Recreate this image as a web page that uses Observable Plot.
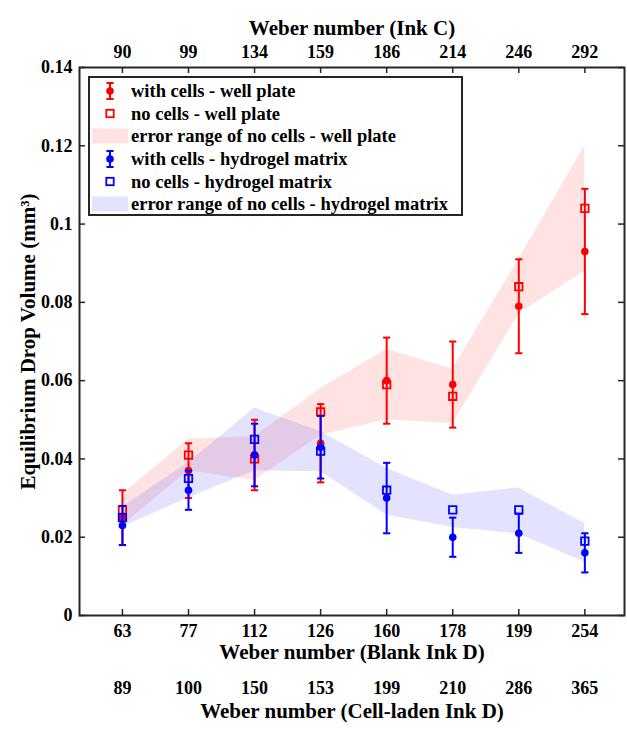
<!DOCTYPE html>
<html><head><meta charset="utf-8">
<script src="https://cdn.jsdelivr.net/npm/d3@7"></script>
<script src="https://cdn.jsdelivr.net/npm/@observablehq/plot@0.6"></script>
<style>
body{margin:0;background:#fff;}
#wrap{position:relative;width:627px;height:729px;}
#legend{position:absolute;left:0;top:0;pointer-events:none;}
#wrap svg text{font-family:"Liberation Serif","Times New Roman",Times,"DejaVu Serif","Noto Serif",serif !important;font-weight:bold;}
</style></head><body><div id="wrap"></div>
<script>
// ---- data ----
const pos = [1, 2, 3, 4, 5, 6, 7, 8];
const blankInkD = ["63", "77", "112", "126", "160", "178", "199", "254"];
const inkC = ["90", "99", "134", "159", "186", "214", "246", "292"];
const cellLaden = ["89", "100", "150", "153", "199", "210", "286", "365"];

const wellWith = [0.025, 0.037, 0.041, 0.044, 0.060, 0.059, 0.079, 0.093];
const wellWithErr = [0.007, 0.007, 0.009, 0.010, 0.011, 0.011, 0.012, 0.016];
const wellNo = [0.027, 0.041, 0.040, 0.052, 0.059, 0.056, 0.084, 0.104];
const wellNoLow = [0.023, 0.037, 0.0345, 0.046, 0.050, 0.049, 0.077, 0.088];
const wellNoHigh = [0.031, 0.045, 0.0457, 0.058, 0.068, 0.063, 0.091, 0.120];

const hydroWith = [0.023, 0.032, 0.041, 0.043, 0.030, 0.020, 0.021, 0.016];
const hydroWithErr = [0.005, 0.005, 0.008, 0.008, 0.009, 0.005, 0.005, 0.005];
const hydroNo = [0.025, 0.035, 0.045, 0.042, 0.032, 0.027, 0.027, 0.019];
const hydroNoLow = [0.0226, 0.030, 0.037, 0.0367, 0.0257, 0.0225, 0.0208, 0.0136];
const hydroNoHigh = [0.0277, 0.039, 0.053, 0.047, 0.0376, 0.0307, 0.0326, 0.0235];

const yTicks = [0, 0.02, 0.04, 0.06, 0.08, 0.1, 0.12, 0.14];

// ---- build rows ----
const rows = pos.map((x, i) => ({
  x,
  wWith: wellWith[i], wErr: wellWithErr[i], wNo: wellNo[i], wLo: wellNoLow[i], wHi: wellNoHigh[i],
  hWith: hydroWith[i], hErr: hydroWithErr[i], hNo: hydroNo[i], hLo: hydroNoLow[i], hHi: hydroNoHigh[i]
}));

const W = 627, H = 729;
const mL = 79, mR = 3, mT = 67, mB = 114;
const innerW = W - mL - mR, innerH = H - mT - mB;
const RED = "#ff0000", BLUE = "#0000ff", AX = "#262626";
const FONT = "Liberation Serif, Times New Roman, Times, DejaVu Serif, serif";

const capSymbol = {draw(ctx, size) { const r = Math.sqrt(size / Math.PI); ctx.moveTo(-r, 0); ctx.lineTo(r, 0); }};
const fmtY = d => d === 0 ? "0" : String(+d.toFixed(2));

function errMarks(lo, hi, color) {
  return [
    Plot.ruleX(rows, {x: "x", y1: lo, y2: hi, stroke: color, strokeWidth: 2}),
    Plot.dot(rows, {x: "x", y: lo, symbol: capSymbol, r: 3.6, stroke: color, strokeWidth: 2, fill: "none"}),
    Plot.dot(rows, {x: "x", y: hi, symbol: capSymbol, r: 3.6, stroke: color, strokeWidth: 2, fill: "none"})
  ];
}

const chart = Plot.plot({
  width: W, height: H,
  marginLeft: mL, marginRight: mR, marginTop: mT, marginBottom: mB,
  x: {domain: [0.35, 8.6], label: null},
  y: {domain: [0, 0.14], label: null},
  style: {fontFamily: FONT, fontSize: "18px", fontWeight: "bold", color: "#000", background: "#fff", overflow: "visible"},
  marks: [
    Plot.areaY(rows, {x: "x", y1: "wLo", y2: "wHi", fill: RED, fillOpacity: 0.11}),
    Plot.areaY(rows, {x: "x", y1: "hLo", y2: "hHi", fill: BLUE, fillOpacity: 0.11}),
    // well plate
    ...errMarks(d => d.wWith - d.wErr, d => d.wWith + d.wErr, RED),
    Plot.dot(rows, {x: "x", y: "wWith", r: 3.8, fill: RED, stroke: "none"}),
    Plot.dot(rows, {x: "x", y: "wNo", symbol: "square", r: 4.2, fill: "none", stroke: RED, strokeWidth: 1.8}),
    // hydrogel
    ...errMarks(d => d.hWith - d.hErr, d => d.hWith + d.hErr, BLUE),
    Plot.dot(rows, {x: "x", y: "hWith", r: 3.8, fill: BLUE, stroke: "none"}),
    Plot.dot(rows, {x: "x", y: "hNo", symbol: "square", r: 4.2, fill: "none", stroke: BLUE, strokeWidth: 1.8}),
    // inward ticks
    Plot.tickX(pos, {x: d => d, insetTop: innerH - 6, stroke: AX, strokeWidth: 1.5}),
    Plot.tickX(pos, {x: d => d, insetBottom: innerH - 6, stroke: AX, strokeWidth: 1.5}),
    Plot.tickY(yTicks, {y: d => d, insetRight: innerW - 6, stroke: AX, strokeWidth: 1.5}),
    Plot.tickY(yTicks, {y: d => d, insetLeft: innerW - 6, stroke: AX, strokeWidth: 1.5}),
    Plot.frame({stroke: AX, strokeWidth: 2}),
    // axes
    Plot.axisX({anchor: "bottom", ticks: pos, tickFormat: i => blankInkD[i - 1], tickSize: 0, tickPadding: 9, label: null}),
    Plot.axisX({anchor: "bottom", ticks: pos, tickFormat: i => cellLaden[i - 1], tickSize: 0, tickPadding: 66, label: null}),
    Plot.axisX({anchor: "top", ticks: pos, tickFormat: i => inkC[i - 1], tickSize: 0, tickPadding: 10, label: null}),
    Plot.axisY({anchor: "left", ticks: yTicks, tickFormat: fmtY, tickSize: 0, tickPadding: 7, label: null}),
    // titles
    Plot.text(["Weber number (Blank Ink D)"], {text: d => d, frameAnchor: "bottom", dy: 43, fontSize: 21, fontWeight: "bold"}),
    Plot.text(["Weber number (Cell-laden Ink D)"], {text: d => d, frameAnchor: "bottom", dy: 102, fontSize: 21, fontWeight: "bold"}),
    Plot.text(["Weber number (Ink C)"], {text: d => d, frameAnchor: "top", dy: -47, fontSize: 21, fontWeight: "bold"}),
    Plot.text(["Equilibrium Drop Volume (mm³)"], {text: d => d, frameAnchor: "left", textAnchor: "middle", dx: -51, rotate: -90, fontSize: 21, fontWeight: "bold"})
  ]
});

const wrap = document.getElementById("wrap");
wrap.appendChild(chart);

// ---- legend overlay ----
const legendItems = [
  {label: "with cells - well plate", kind: "err", color: RED},
  {label: "no cells - well plate", kind: "sq", color: RED},
  {label: "error range of no cells - well plate", kind: "patch", color: RED},
  {label: "with cells - hydrogel matrix", kind: "err", color: BLUE},
  {label: "no cells - hydrogel matrix", kind: "sq", color: BLUE},
  {label: "error range of no cells - hydrogel matrix", kind: "patch", color: BLUE}
];
const ns = "http://www.w3.org/2000/svg";
const lg = document.createElementNS(ns, "svg");
lg.setAttribute("id", "legend");
lg.setAttribute("width", W); lg.setAttribute("height", H);
let html = `<rect x="89" y="77" width="373" height="138" fill="#fff" stroke="${AX}" stroke-width="2"/>`;
const rowY = [91, 113.5, 136, 159, 181.5, 204];
legendItems.forEach((it, i) => {
  const y = rowY[i], mx = 110;
  if (it.kind === "err") {
    html += `<line x1="${mx}" x2="${mx}" y1="${y-8}" y2="${y+8}" stroke="${it.color}" stroke-width="2"/>`;
    html += `<line x1="${mx-3.6}" x2="${mx+3.6}" y1="${y-8}" y2="${y-8}" stroke="${it.color}" stroke-width="2"/>`;
    html += `<line x1="${mx-3.6}" x2="${mx+3.6}" y1="${y+8}" y2="${y+8}" stroke="${it.color}" stroke-width="2"/>`;
    html += `<circle cx="${mx}" cy="${y}" r="3.8" fill="${it.color}"/>`;
  } else if (it.kind === "sq") {
    html += `<rect x="${mx-3.7}" y="${y-3.7}" width="7.4" height="7.4" fill="none" stroke="${it.color}" stroke-width="1.8"/>`;
  } else {
    html += `<rect x="92" y="${y-7.5}" width="36" height="15" fill="${it.color}" fill-opacity="0.11"/>`;
  }
  html += `<text x="131" y="${y}" dominant-baseline="central" font-weight="bold" font-size="18.5" fill="#000">${it.label}</text>`;
});
lg.innerHTML = html;
wrap.appendChild(lg);
</script>
</body></html>
